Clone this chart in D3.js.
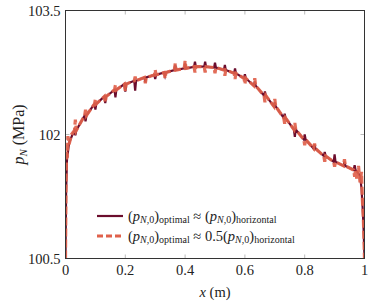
<!DOCTYPE html>
<html>
<head>
<meta charset="utf-8">
<script src="https://cdn.jsdelivr.net/npm/d3@7"></script>
<style>
  body { margin: 0; background: #fff; }
</style>
</head>
<body>
<svg id="chart" width="373" height="305"></svg>
<script>
// spike centres along the wall (m)
var spikeX = [0.033, 0.067, 0.1, 0.133, 0.167, 0.2, 0.233, 0.267, 0.3, 0.333,
              0.367, 0.4, 0.433, 0.467, 0.5, 0.533, 0.567, 0.6, 0.633, 0.667,
              0.7, 0.733, 0.767, 0.8, 0.833, 0.867, 0.9, 0.933, 0.967];
// pressure at the spike centres, without the spike (MPa)
var baseP = [102.05, 102.23, 102.37, 102.46, 102.54, 102.61, 102.65, 102.69, 102.72, 102.75,
             102.78, 102.80, 102.82, 102.82, 102.81, 102.78, 102.74, 102.68, 102.59, 102.47,
             102.34, 102.20, 102.06, 101.94, 101.83, 101.74, 101.67, 101.62, 101.57];
// spike tips, optimal = horizontal
var darkTip = [101.99, 102.16, 102.30, 102.38, 102.45, 102.52, 102.53, 102.63, 102.67, 102.71,
               102.84, 102.86, 102.88, 102.88, 102.87, 102.84, 102.80, 102.73, 102.64, 102.52,
               102.39, 102.25, 101.97, 102.00, 101.88, 101.79, 101.76, 101.67, 101.63];
// spike tips, optimal = 0.5 horizontal
var orangeTip = [102.18, 102.30, 102.43, 102.39, 102.60, 102.53, 102.70, 102.62, 102.78, 102.68,
                 102.86, 102.89, 102.75, 102.75, 102.74, 102.71, 102.67, 102.61, 102.68, 102.39,
                 102.43, 102.13, 102.14, 101.87, 101.89, 101.67, 101.61, 101.70, 101.49];
// ends of the wall
var darkStart = [[0, 100.5], [0.002, 101.3], [0.005, 101.7], [0.012, 101.9], [0.02, 101.97]];
var darkEnd = [[0.975, 101.55], [0.985, 101.5], [0.99, 101.35], [0.994, 101.1], [0.997, 100.85], [1, 100.5]];
var orangeStart = [[0, 100.5], [0.002, 101.5], [0.004, 101.8], [0.006, 101.72], [0.008, 101.98], [0.012, 101.88], [0.02, 102.0]];
var orangeEnd = [[0.975, 101.45], [0.98, 101.62], [0.985, 101.42], [0.99, 101.55], [0.993, 101.2], [0.996, 101.0], [1, 100.5]];

var xTicks = [0, 0.2, 0.4, 0.6, 0.8, 1];
var yTicks = [100.5, 102, 103.5];

var halfW = 0.003;
function buildSeries(start, tips, end) {
    var pts = start.slice();
    for (var i = 0; i < spikeX.length; i++) {
        pts.push([spikeX[i] - halfW, baseP[i]]);
        pts.push([spikeX[i], tips[i]]);
        pts.push([spikeX[i] + halfW, baseP[i]]);
    }
    return pts.concat(end);
}
var darkData = buildSeries(darkStart, darkTip, darkEnd);
var orangeData = buildSeries(orangeStart, orangeTip, orangeEnd);

var pL = 65.5, pR = 364.5, pT = 10.5, pB = 258.5;
var serif = "'Liberation Serif', 'Times New Roman', 'Nimbus Roman', 'Noto Serif', 'DejaVu Serif', serif";
var svg = d3.select("#chart");

var x = d3.scaleLinear().domain([0, 1]).range([pL, pR]);
var y = d3.scaleLinear().domain([100.5, 103.5]).range([pB, pT]);

svg.append("defs").append("clipPath").attr("id", "plotclip")
    .append("rect").attr("x", pL).attr("y", pT)
    .attr("width", pR - pL).attr("height", pB - pT);

// inner gray ticks
var tickLen = 4;
var inner = [0.2, 0.4, 0.6, 0.8];
svg.selectAll(".xtb").data(inner).enter().append("line")
    .attr("x1", function(d) { return x(d); }).attr("x2", function(d) { return x(d); })
    .attr("y1", pB).attr("y2", pB - tickLen)
    .attr("stroke", "#aaa").attr("stroke-width", 0.8);
svg.selectAll(".xtt").data(inner).enter().append("line")
    .attr("x1", function(d) { return x(d); }).attr("x2", function(d) { return x(d); })
    .attr("y1", pT).attr("y2", pT + tickLen)
    .attr("stroke", "#aaa").attr("stroke-width", 0.8);
svg.selectAll(".ytl").data([102]).enter().append("line")
    .attr("x1", pL).attr("x2", pL + tickLen)
    .attr("y1", function(d) { return y(d); }).attr("y2", function(d) { return y(d); })
    .attr("stroke", "#aaa").attr("stroke-width", 0.8);
svg.selectAll(".ytr").data([102]).enter().append("line")
    .attr("x1", pR).attr("x2", pR - tickLen)
    .attr("y1", function(d) { return y(d); }).attr("y2", function(d) { return y(d); })
    .attr("stroke", "#aaa").attr("stroke-width", 0.8);

var line = d3.line()
    .x(function(d) { return x(d[0]); })
    .y(function(d) { return y(d[1]); });

var darkColor = "#6b0d2d", orangeColor = "#e0614b";

var plot = svg.append("g").attr("clip-path", "url(#plotclip)");
plot.append("path").datum(darkData)
    .attr("d", line).attr("fill", "none")
    .attr("stroke", darkColor).attr("stroke-width", 2.2);
plot.append("path").datum(orangeData)
    .attr("d", line).attr("fill", "none")
    .attr("stroke", orangeColor).attr("stroke-width", 3.2)
    .attr("stroke-dasharray", "8,3")
    .attr("stroke-opacity", 0.92);

// frame
svg.append("rect").attr("x", pL).attr("y", pT)
    .attr("width", pR - pL).attr("height", pB - pT)
    .attr("fill", "none").attr("stroke", "#333").attr("stroke-width", 1);

// tick labels
svg.selectAll(".xl").data(xTicks).enter().append("text")
    .style("font-family", serif).attr("fill", "#222")
    .attr("x", function(d) { return x(d); }).attr("y", pB + 16)
    .attr("text-anchor", "middle").attr("font-size", 14.5)
    .text(function(d) { return d3.format("~g")(d); });
svg.selectAll(".yl").data(yTicks).enter().append("text")
    .style("font-family", serif).attr("fill", "#222")
    .attr("x", pL - 5).attr("y", function(d) { return y(d) + 5; })
    .attr("text-anchor", "end").attr("font-size", 14.5)
    .text(function(d) { return d; });

// axis labels
var xl = svg.append("text").style("font-family", serif).attr("fill", "#222")
    .attr("x", 215).attr("y", 297)
    .attr("text-anchor", "middle").attr("font-size", 14.5);
xl.append("tspan").attr("font-style", "italic").text("x");
xl.append("tspan").text(" (m)");

var yl = svg.append("text").style("font-family", serif).attr("fill", "#222")
    .attr("transform", "translate(24," + y(102) + ") rotate(-90)")
    .attr("text-anchor", "middle").attr("font-size", 16);
yl.append("tspan").attr("font-style", "italic").text("p");
yl.append("tspan").attr("font-style", "italic").attr("font-size", 11).attr("dy", 3).text("N");
yl.append("tspan").attr("dy", -3).text(" (MPa)");

// legend
var legend = [
    { color: darkColor, dash: null, width: 2.2, rhs: "" },
    { color: orangeColor, dash: "6,3", width: 3, rhs: "0.5" }
];
var lg = svg.selectAll(".leg").data(legend).enter().append("g")
    .attr("transform", function(d, i) { return "translate(97," + (216 + i * 20) + ")"; });
lg.append("line").attr("x1", 0).attr("x2", 26).attr("y1", 0).attr("y2", 0)
    .attr("stroke", function(d) { return d.color; })
    .attr("stroke-width", function(d) { return d.width; })
    .attr("stroke-dasharray", function(d) { return d.dash; });

var main = 14.5, sub = 10, shift = 2.5;
lg.each(function(d) {
    var t = d3.select(this).append("text").style("font-family", serif).attr("fill", "#222")
        .attr("x", 31).attr("y", 4.5).attr("font-size", main);
    function pn() {
        t.append("tspan").text("(");
        t.append("tspan").attr("font-style", "italic").text("p");
        t.append("tspan").attr("font-size", sub).attr("font-style", "italic").attr("dy", shift).text("N");
        t.append("tspan").attr("font-size", sub).text(",0");
        t.append("tspan").attr("dy", -shift).text(")");
    }
    pn();
    t.append("tspan").attr("font-size", sub).attr("dy", shift).text("optimal");
    t.append("tspan").attr("dy", -shift).text(" \u2248 " + d.rhs);
    pn();
    t.append("tspan").attr("font-size", sub).attr("dy", shift).text("horizontal");
});
</script>
</body>
</html>
